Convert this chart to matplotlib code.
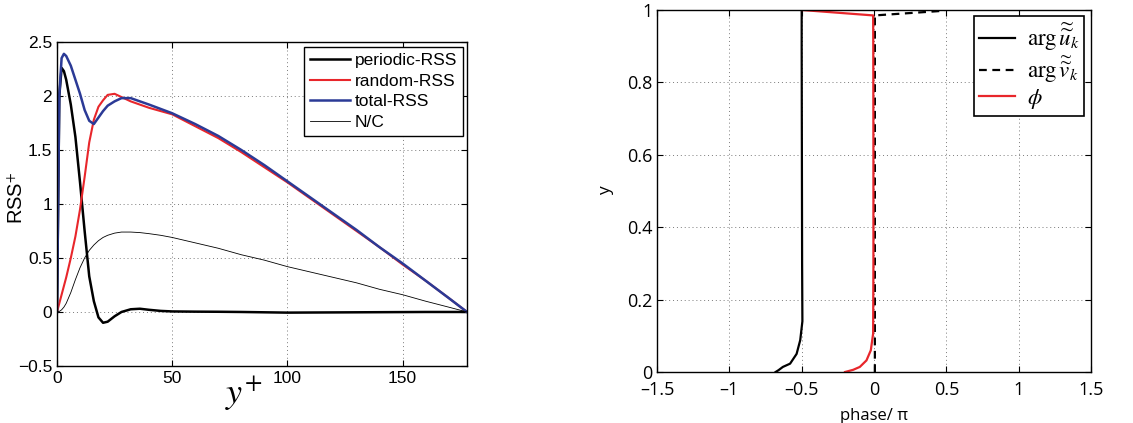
import matplotlib
matplotlib.use("Agg")
import matplotlib.pyplot as plt
import numpy as np

# ---- left panel: Reynolds shear stress profiles ----
yplus = [0, 1, 2, 3, 4, 6, 8, 10, 12, 14, 16, 18, 20, 22, 25, 28, 32, 36, 40,
         45, 50, 60, 70, 80, 90, 100, 110, 120, 130, 140, 150, 160, 170, 178]
periodic_rss = [0, 2.0, 2.26, 2.23, 2.15, 1.92, 1.62, 1.2, 0.75, 0.33, 0.1,
                -0.05, -0.1, -0.09, -0.04, 0.0, 0.025, 0.03, 0.02, 0.01, 0.005,
                0.003, 0.002, 0.0, -0.003, -0.006, -0.005, -0.004, -0.003,
                -0.002, -0.001, 0.0, 0.0, 0.0]
random_rss = [0, 0.08, 0.16, 0.24, 0.32, 0.5, 0.7, 0.95, 1.25, 1.57, 1.78,
              1.9, 1.96, 2.01, 2.02, 1.99, 1.95, 1.92, 1.89, 1.86, 1.83, 1.72,
              1.61, 1.48, 1.34, 1.2, 1.05, 0.9, 0.75, 0.6, 0.44, 0.29, 0.13, 0]
total_rss = [0, 2.0, 2.35, 2.39, 2.37, 2.28, 2.15, 2.02, 1.87, 1.77, 1.74,
             1.8, 1.86, 1.91, 1.95, 1.98, 1.98, 1.95, 1.92, 1.88, 1.84, 1.74,
             1.63, 1.5, 1.36, 1.21, 1.06, 0.91, 0.76, 0.6, 0.45, 0.29, 0.13, 0]
nc_rss = [0, 0.005, 0.02, 0.045, 0.08, 0.18, 0.3, 0.41, 0.5, 0.57, 0.62, 0.66,
          0.69, 0.71, 0.73, 0.74, 0.74, 0.735, 0.725, 0.71, 0.69, 0.64, 0.59,
          0.53, 0.48, 0.42, 0.37, 0.32, 0.27, 0.21, 0.16, 0.1, 0.045, 0]
left_xticks = [0, 50, 100, 150]
left_yticks = [-0.5, 0, 0.5, 1, 1.5, 2, 2.5]
left_yticklabels = ["\u22120.5", "0", "0.5", "1", "1.5", "2", "2.5"]

# ---- right panel: phase profiles ----
y_u = [0, 0.005, 0.014, 0.023, 0.05, 0.088, 0.14, 0.3, 0.5, 0.7, 0.9, 1.0]
arg_u = [-0.68, -0.66, -0.63, -0.58, -0.535, -0.51, -0.495, -0.497, -0.498,
         -0.499, -0.5, -0.5]
y_v = [0, 0.5, 0.985, 0.998]
arg_v = [0.006, 0.006, 0.006, 0.49]
y_phi = [0, 0.006, 0.014, 0.032, 0.06, 0.106, 0.3, 0.6, 0.9, 0.985, 1.0]
phi = [-0.2, -0.144, -0.098, -0.052, -0.022, -0.006, -0.004, -0.004, -0.005,
       -0.006, -0.5]
right_xticks = [-1.5, -1, -0.5, 0, 0.5, 1, 1.5]
right_xticklabels = ["\u20131.5", "\u20131", "\u20130.5", "0", "0.5", "1", "1.5"]
right_yticks = [0, 0.2, 0.4, 0.6, 0.8, 1]
right_yticklabels = ["0", "0.2", "0.4", "0.6", "0.8", "1"]

RED = "#e8262b"
BLUE = "#2b3a96"

plt.rcParams["mathtext.fontset"] = "stix"

fig = plt.figure(figsize=(11.33, 4.23), dpi=100)

def style_axes(ax):
    ax.tick_params(direction="in", top=True, right=True, length=4, width=0.8)
    for s in ax.spines.values():
        s.set_linewidth(1.0)
    ax.grid(True, color="#7a7a7a", linestyle=(0, (1, 3)), linewidth=0.7)

# left
axL = fig.add_axes([0.0503, 0.1348, 0.3619, 0.7660])
axL.plot(yplus, periodic_rss, color="black", lw=1.8, label="periodic-RSS")
axL.plot(yplus, random_rss, color=RED, lw=1.5, label="random-RSS")
axL.plot(yplus, total_rss, color=BLUE, lw=1.8, label="total-RSS")
axL.plot(yplus, nc_rss, color="black", lw=0.6, label="N/C")
axL.set_xlim(0, 178)
axL.set_ylim(-0.5, 2.5)
axL.set_xticks(left_xticks)
axL.set_yticks(left_yticks)
axL.set_yticklabels(left_yticklabels)
style_axes(axL)
for lab in axL.get_xticklabels() + axL.get_yticklabels():
    lab.set_family("Liberation Sans")
    lab.set_fontsize(12.5)
axL.set_ylabel("RSS$^{\\mathsf{+}}$", fontsize=14.5, family="Liberation Sans")
axL.yaxis.set_label_coords(-0.074, 0.52)
fig.text(0.215, 0.07, "$y^{+}$", fontsize=26, ha="center", va="center")
legL = axL.legend(loc="upper right", bbox_to_anchor=(0.991, 0.985),
                  prop={"family": "Liberation Sans", "size": 12.5},
                  fancybox=False, framealpha=1, edgecolor="black",
                  handlelength=2.3, handletextpad=0.3, labelspacing=0.32,
                  borderpad=0.35, borderaxespad=0.0)
legL.get_frame().set_linewidth(1.0)

# right
axR = fig.add_axes([0.5799, 0.1206, 0.3830, 0.8558])
axR.plot(arg_u, y_u, color="black", lw=1.6,
         label=r"$\mathrm{arg}\,\widetilde{\widetilde{u}}_k$")
axR.plot(arg_v, y_v, color="black", lw=1.6, ls=(0, (3.5, 2.5)),
         label=r"$\mathrm{arg}\,\widetilde{\widetilde{v}}_k$")
axR.plot(phi, y_phi, color=RED, lw=1.6, label=r"$\phi$")
axR.set_xlim(-1.5, 1.5)
axR.set_ylim(0, 1)
axR.set_xticks(right_xticks)
axR.set_xticklabels(right_xticklabels)
axR.set_yticks(right_yticks)
axR.set_yticklabels(right_yticklabels)
style_axes(axR)
axR.tick_params(axis="x", pad=6.5)
for lab in axR.get_xticklabels() + axR.get_yticklabels():
    lab.set_family("Open Sans")
    lab.set_fontsize(13)
axR.set_xlabel("phase/ \u03c0", fontsize=12, family="Open Sans")
axR.xaxis.set_label_coords(0.5, -0.1)
axR.set_ylabel("y", fontsize=12.5, family="Open Sans")
axR.yaxis.set_label_coords(-0.1, 0.5)
legR = axR.legend(loc="upper right", bbox_to_anchor=(0.985, 0.983),
                  prop={"size": 16.5}, fancybox=False, framealpha=1,
                  edgecolor="black", handlelength=1.6, handletextpad=0.5,
                  labelspacing=0.05, borderpad=0.2, borderaxespad=0.0)
legR.get_frame().set_linewidth(1.2)

fig.savefig("out.png", dpi=100)
